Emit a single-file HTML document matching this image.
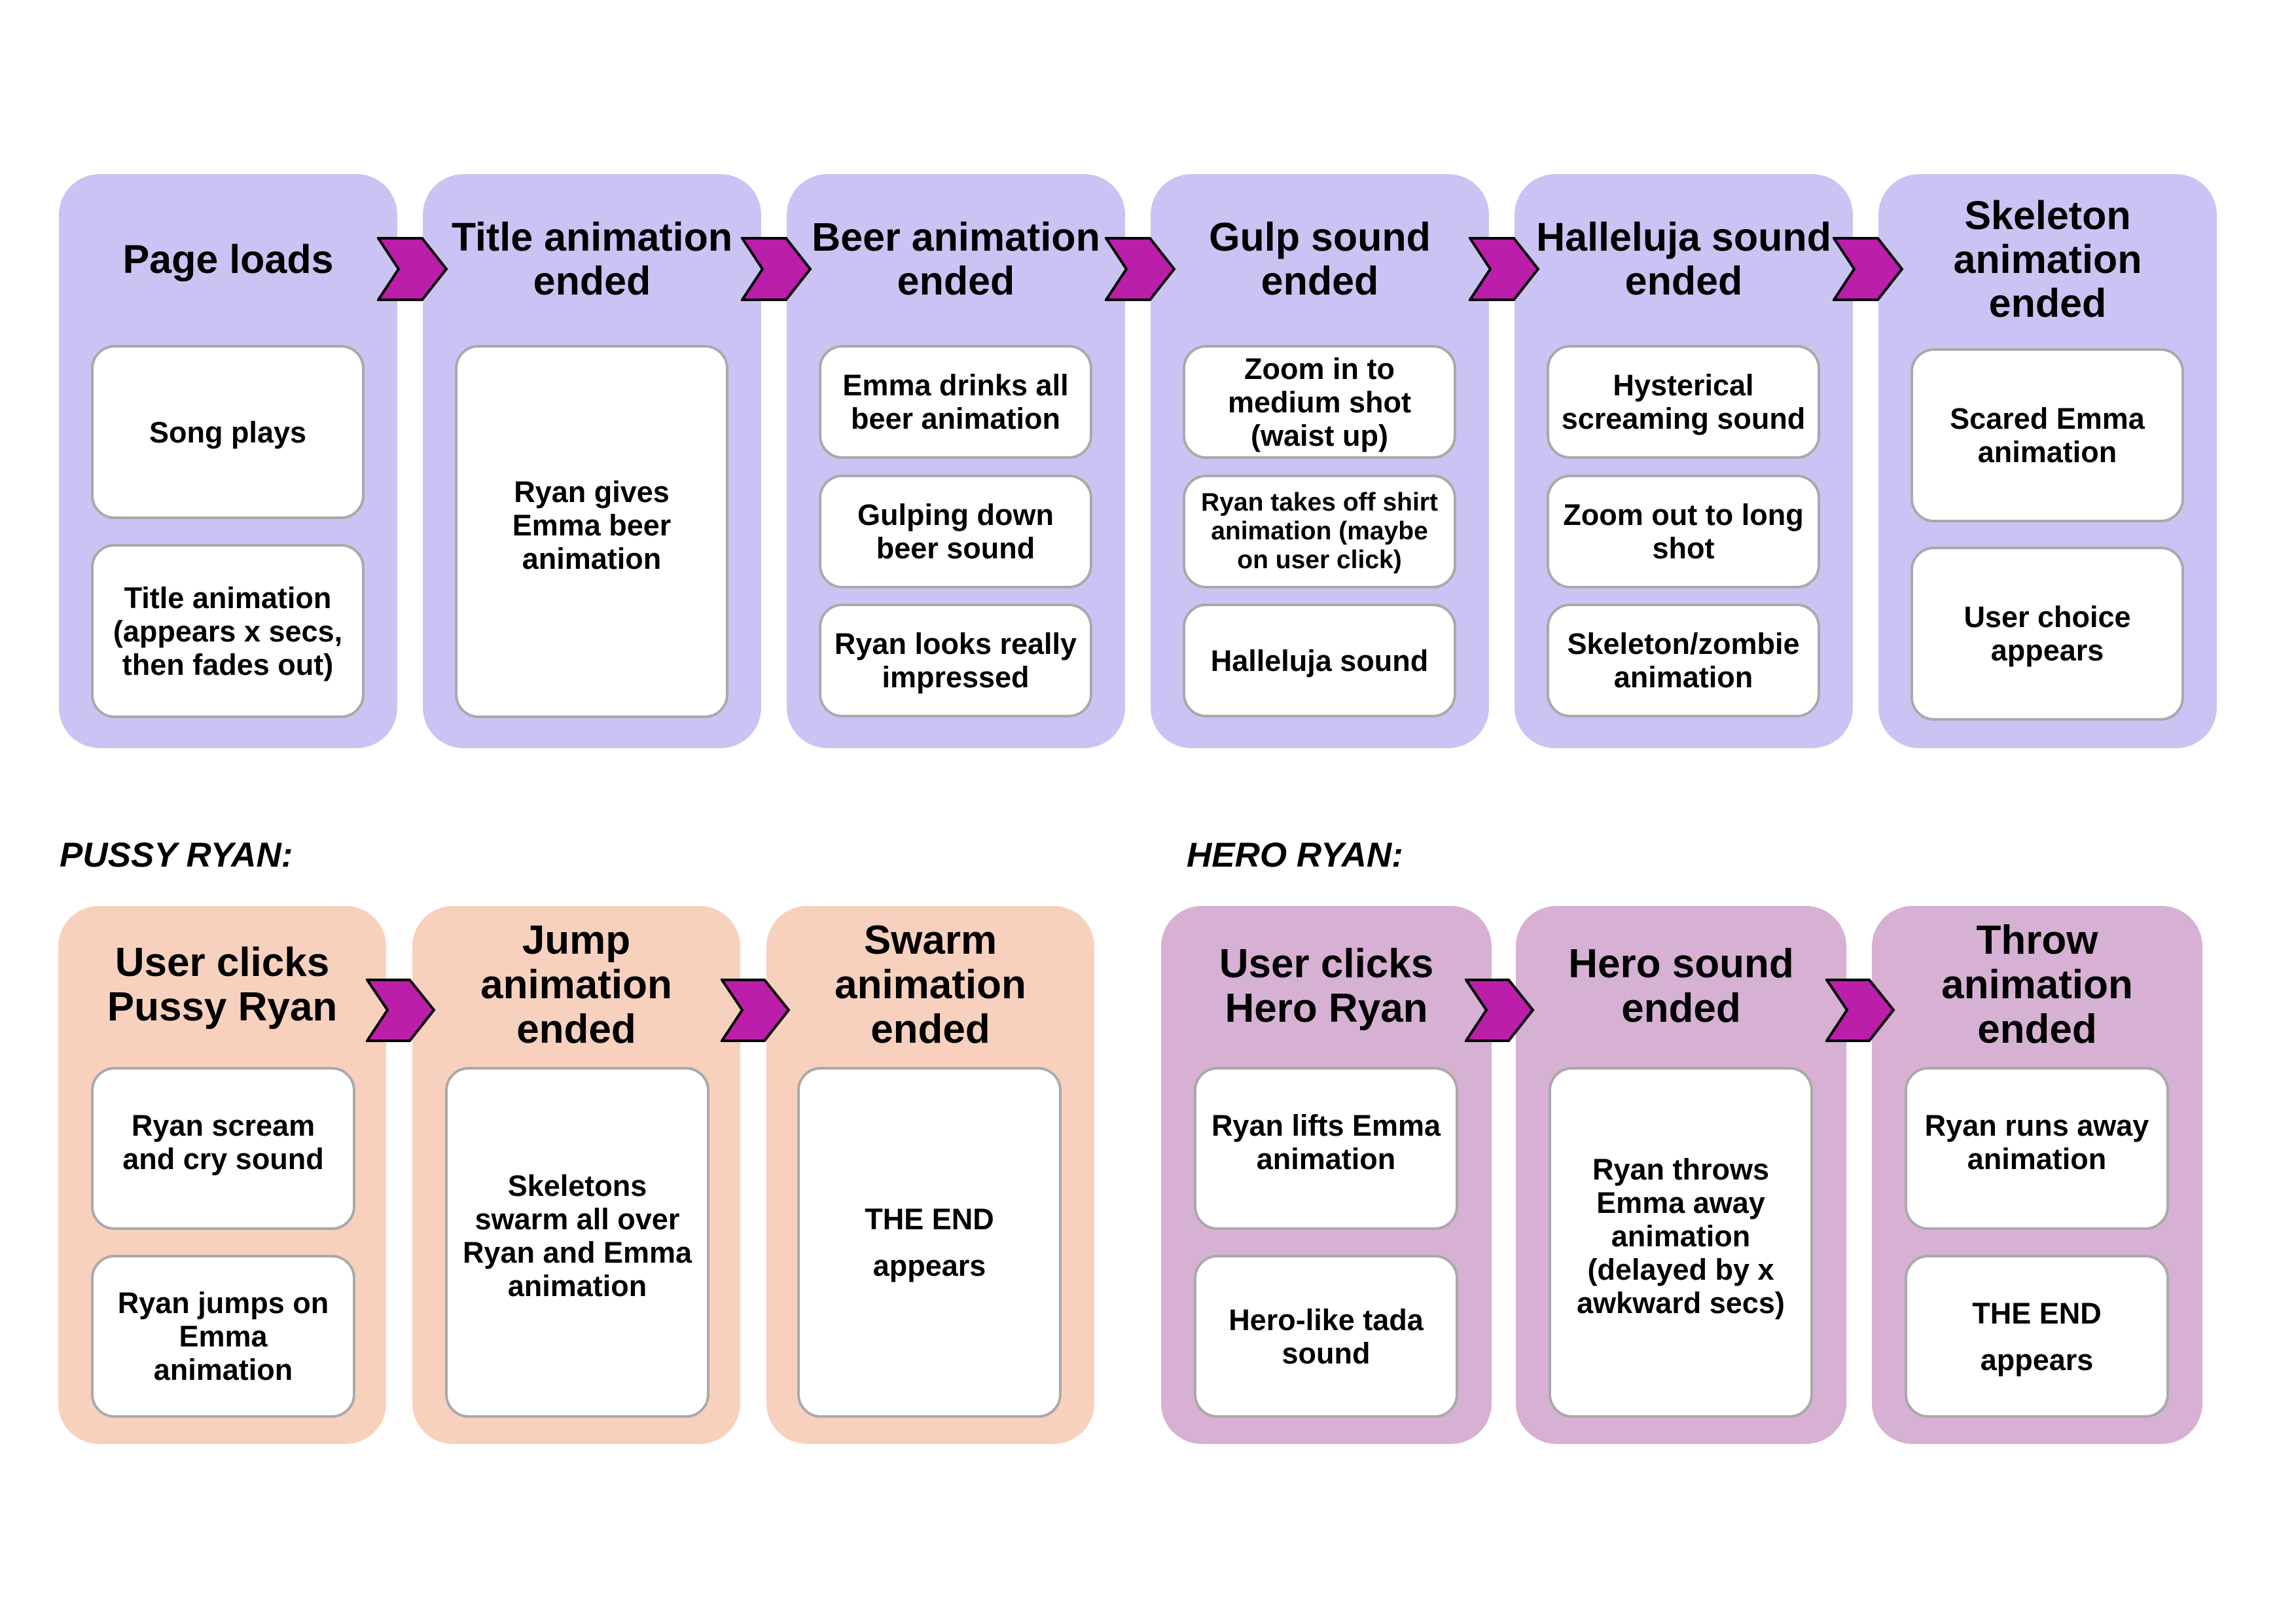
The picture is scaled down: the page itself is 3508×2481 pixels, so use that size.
<!DOCTYPE html>
<html><head><meta charset="utf-8"><style>
*{margin:0;padding:0;box-sizing:border-box}
body{width:3508px;height:2481px;background:#fff;position:relative;overflow:hidden;font-family:"Liberation Sans Narrow","Liberation Sans",sans-serif;font-weight:bold;color:#000}
.p{position:absolute;border-radius:62px}
.pu{background:#cbc3f3}.pe{background:#f7d1be}.ma{background:#d6b1d3}
.h{position:absolute;display:flex;align-items:center;justify-content:center;text-align:center;font-size:61px;line-height:67px;white-space:nowrap}
.b{position:absolute;background:#fff;border:4px solid #a9a9a9;border-radius:36px;display:flex;align-items:center;justify-content:center;text-align:center;font-size:45px;line-height:51px;padding:0 10px}
.c{position:absolute}
.lab{position:absolute;font-style:italic;font-size:53px;line-height:60px;font-weight:bold}
</style></head><body>

<!-- Top row panels -->
<div class="p pu" style="left:90px;top:266px;width:517px;height:877px"></div>
<div class="p pu" style="left:646px;top:266px;width:517px;height:877px"></div>
<div class="p pu" style="left:1202px;top:266px;width:517px;height:877px"></div>
<div class="p pu" style="left:1758px;top:266px;width:517px;height:877px"></div>
<div class="p pu" style="left:2314px;top:266px;width:517px;height:877px"></div>
<div class="p pu" style="left:2870px;top:266px;width:517px;height:877px"></div>

<div class="h" style="left:90px;top:296px;width:517px;height:200px">Page loads</div>
<div class="h" style="left:646px;top:296px;width:517px;height:200px">Title animation<br>ended</div>
<div class="h" style="left:1202px;top:296px;width:517px;height:200px">Beer animation<br>ended</div>
<div class="h" style="left:1758px;top:296px;width:517px;height:200px">Gulp sound<br>ended</div>
<div class="h" style="left:2314px;top:296px;width:517px;height:200px">Halleluja sound<br>ended</div>
<div class="h" style="left:2870px;top:296px;width:517px;height:200px">Skeleton<br>animation<br>ended</div>

<!-- panel 1 -->
<div class="b" style="left:139px;top:527px;width:418px;height:266px">Song plays</div>
<div class="b" style="left:139px;top:831px;width:418px;height:266px">Title animation<br>(appears x secs,<br>then fades out)</div>
<!-- panel 2 -->
<div class="b" style="left:695px;top:527px;width:418px;height:570px;padding-bottom:20px">Ryan gives<br>Emma beer<br>animation</div>
<!-- panel 3 -->
<div class="b" style="left:1251px;top:527px;width:418px;height:174px">Emma drinks all<br>beer animation</div>
<div class="b" style="left:1251px;top:725px;width:418px;height:174px">Gulping down<br>beer sound</div>
<div class="b" style="left:1251px;top:922px;width:418px;height:174px">Ryan looks really<br>impressed</div>
<!-- panel 4 -->
<div class="b" style="left:1807px;top:527px;width:418px;height:174px">Zoom in to<br>medium shot<br>(waist up)</div>
<div class="b" style="left:1807px;top:725px;width:418px;height:174px;font-size:39px;line-height:44px">Ryan takes off shirt<br>animation (maybe<br>on user click)</div>
<div class="b" style="left:1807px;top:922px;width:418px;height:174px">Halleluja sound</div>
<!-- panel 5 -->
<div class="b" style="left:2363px;top:527px;width:418px;height:174px">Hysterical<br>screaming sound</div>
<div class="b" style="left:2363px;top:725px;width:418px;height:174px">Zoom out to long<br>shot</div>
<div class="b" style="left:2363px;top:922px;width:418px;height:174px">Skeleton/zombie<br>animation</div>
<!-- panel 6 -->
<div class="b" style="left:2919px;top:532px;width:418px;height:266px">Scared Emma<br>animation</div>
<div class="b" style="left:2919px;top:835px;width:418px;height:266px">User choice<br>appears</div>

<!-- top chevrons -->
<svg class="c" style="left:576px;top:362px" width="110" height="98"><polygon points="2,2 69,2 106,49 69,96 2,96 33,49" fill="#bb1ea9" stroke="#000" stroke-width="4"/></svg>
<svg class="c" style="left:1132px;top:362px" width="110" height="98"><polygon points="2,2 69,2 106,49 69,96 2,96 33,49" fill="#bb1ea9" stroke="#000" stroke-width="4"/></svg>
<svg class="c" style="left:1688px;top:362px" width="110" height="98"><polygon points="2,2 69,2 106,49 69,96 2,96 33,49" fill="#bb1ea9" stroke="#000" stroke-width="4"/></svg>
<svg class="c" style="left:2244px;top:362px" width="110" height="98"><polygon points="2,2 69,2 106,49 69,96 2,96 33,49" fill="#bb1ea9" stroke="#000" stroke-width="4"/></svg>
<svg class="c" style="left:2800px;top:362px" width="110" height="98"><polygon points="2,2 69,2 106,49 69,96 2,96 33,49" fill="#bb1ea9" stroke="#000" stroke-width="4"/></svg>

<!-- labels -->
<div class="lab" style="left:91px;top:1277px">PUSSY RYAN:</div>
<div class="lab" style="left:1813px;top:1277px">HERO RYAN:</div>

<!-- Pussy panels -->
<div class="p pe" style="left:89px;top:1384px;width:501px;height:822px"></div>
<div class="p pe" style="left:630px;top:1384px;width:501px;height:822px"></div>
<div class="p pe" style="left:1171px;top:1384px;width:501px;height:822px"></div>
<div class="h" style="left:89px;top:1405px;width:501px;height:200px;font-size:62px;line-height:68px">User clicks<br>Pussy Ryan</div>
<div class="h" style="left:630px;top:1405px;width:501px;height:200px;font-size:62px;line-height:68px">Jump<br>animation<br>ended</div>
<div class="h" style="left:1171px;top:1405px;width:501px;height:200px;font-size:62px;line-height:68px">Swarm<br>animation<br>ended</div>
<div class="b" style="left:139px;top:1630px;width:404px;height:249px;padding-bottom:20px">Ryan scream<br>and cry sound</div>
<div class="b" style="left:139px;top:1917px;width:404px;height:249px">Ryan jumps on<br>Emma<br>animation</div>
<div class="b" style="left:680px;top:1630px;width:404px;height:536px;padding-bottom:20px">Skeletons<br>swarm all over<br>Ryan and Emma<br>animation</div>
<div class="b" style="left:1218px;top:1630px;width:404px;height:536px;line-height:71px;padding-bottom:0">THE END<br>appears</div>

<!-- Hero panels -->
<div class="p ma" style="left:1774px;top:1384px;width:505px;height:822px"></div>
<div class="p ma" style="left:2316px;top:1384px;width:505px;height:822px"></div>
<div class="p ma" style="left:2860px;top:1384px;width:505px;height:822px"></div>
<div class="h" style="left:1774px;top:1407px;width:505px;height:200px;font-size:62px;line-height:68px">User clicks<br>Hero Ryan</div>
<div class="h" style="left:2316px;top:1407px;width:505px;height:200px;font-size:62px;line-height:68px">Hero sound<br>ended</div>
<div class="h" style="left:2860px;top:1405px;width:505px;height:200px;font-size:62px;line-height:68px">Throw<br>animation<br>ended</div>
<div class="b" style="left:1824px;top:1630px;width:404px;height:249px;padding-bottom:20px">Ryan lifts Emma<br>animation</div>
<div class="b" style="left:1824px;top:1917px;width:404px;height:249px">Hero-like tada<br>sound</div>
<div class="b" style="left:2366px;top:1630px;width:404px;height:536px;padding-bottom:20px">Ryan throws<br>Emma away<br>animation<br>(delayed by x<br>awkward secs)</div>
<div class="b" style="left:2910px;top:1630px;width:404px;height:249px;padding-bottom:20px">Ryan runs away<br>animation</div>
<div class="b" style="left:2910px;top:1917px;width:404px;height:249px;line-height:71px">THE END<br>appears</div>

<!-- bottom chevrons -->
<svg class="c" style="left:559px;top:1495px" width="108" height="97"><polygon points="2,2 67,2 104,48 67,95 2,95 33,48" fill="#bb1ea9" stroke="#000" stroke-width="4"/></svg>
<svg class="c" style="left:1101px;top:1495px" width="108" height="97"><polygon points="2,2 67,2 104,48 67,95 2,95 33,48" fill="#bb1ea9" stroke="#000" stroke-width="4"/></svg>
<svg class="c" style="left:2238px;top:1495px" width="108" height="97"><polygon points="2,2 67,2 104,48 67,95 2,95 33,48" fill="#bb1ea9" stroke="#000" stroke-width="4"/></svg>
<svg class="c" style="left:2789px;top:1495px" width="108" height="97"><polygon points="2,2 67,2 104,48 67,95 2,95 33,48" fill="#bb1ea9" stroke="#000" stroke-width="4"/></svg>

</body></html>
